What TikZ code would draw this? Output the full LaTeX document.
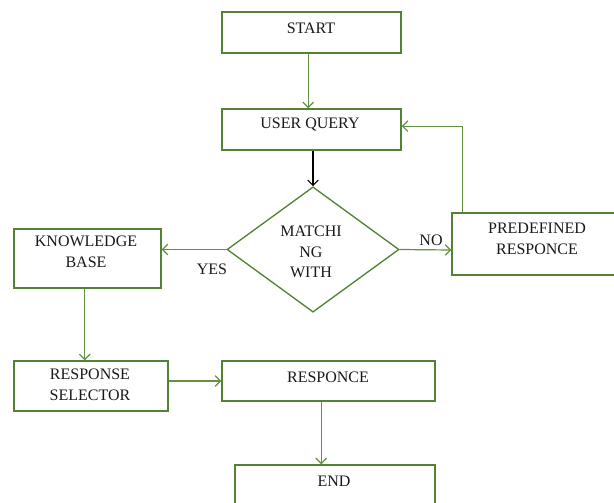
\documentclass[tikz,border=0pt]{standalone}
\usepackage{fontspec}
\setmainfont{Liberation Serif}
\usetikzlibrary{shapes.geometric,arrows.meta,calc}
\definecolor{boxgreen}{RGB}{84,130,53}
\definecolor{arrgreen}{RGB}{100,145,65}
\begin{document}
\begin{tikzpicture}[x=0.75pt,y=-0.75pt,
  box/.style={draw=boxgreen,line width=1pt,rectangle,inner sep=0pt},
  dia/.style={draw=boxgreen,line width=1pt,diamond,inner sep=0pt,minimum width=129pt,minimum height=94pt},
  lbl/.style={font=\fontsize{12}{15.5}\selectfont,align=center,inner sep=0pt,text=black!90},
  arr/.style={draw=arrgreen,line width=0.9pt,-{Straight Barb[length=4pt,width=8pt]}},
  barr/.style={draw=black,line width=0.8pt,-{Straight Barb[length=4pt,width=8pt]}}]
\useasboundingbox (0,0) rectangle (614,503);
% boxes
\node[box,minimum width=134.25pt,minimum height=30.75pt] (start) at (311.5,32.5) {};
\node[box,minimum width=134.25pt,minimum height=30.75pt] (uq) at (311.5,129.5) {};
\node[dia] (dia) at (313,249.5) {};
\node[box,minimum width=110.25pt,minimum height=44.25pt] (kb) at (87.5,258.5) {};
\node[box,minimum width=123pt,minimum height=46.5pt] (pre) at (534,244) {};
\node[box,minimum width=115.5pt,minimum height=37.5pt] (rs) at (91,386) {};
\node[box,minimum width=159.75pt,minimum height=30pt] (resp) at (328.5,381) {};
\node[box,minimum width=150pt,minimum height=30.75pt] (end) at (335,485.5) {};
% texts
\node[lbl] (tstart) at (311,28) {START};
\node[lbl] (tuq) at (310,124) {USER QUERY};
\node[lbl] (tdia) at (311,252) {MATCHI\\NG\\WITH};
\node[lbl] (tkb) at (86,252) {KNOWLEDGE\\BASE};
\node[lbl] (tpre) at (537,239) {PREDEFINED\\RESPONCE};
\node[lbl] (trs) at (90,385) {RESPONSE\\SELECTOR};
\node[lbl] (tresp) at (328,377) {RESPONCE};
\node[lbl] (tend) at (334,481) {END};
\node[lbl] (tyes) at (212,269) {YES};
\node[lbl] (tno) at (431,240) {NO};
% connectors
\draw[arr] ([xshift=-2.5pt]start.south) -- ([xshift=-2.5pt]uq.north);
\draw[barr] (uq.south -| dia.north) -- (dia.north);
\draw[arr] (dia.west) -- (kb.east |- dia.west);
\draw[arr] (dia.east) -- ([yshift=-4.5pt]pre.west);
\coordinate (loopstart) at ([xshift=8.25pt]pre.north west);
\draw[arr] (loopstart) |- ([yshift=2.5pt]uq.east);
\draw[arr] ([xshift=-2pt]kb.south) -- ([xshift=-2pt]kb.south |- rs.north);
\draw[arr] (rs.east |- resp.west) -- (resp.west);
\draw[arr] ([xshift=-5.5pt]resp.south) -- ([xshift=-5.5pt]resp.south |- end.north);
\end{tikzpicture}
\end{document}
